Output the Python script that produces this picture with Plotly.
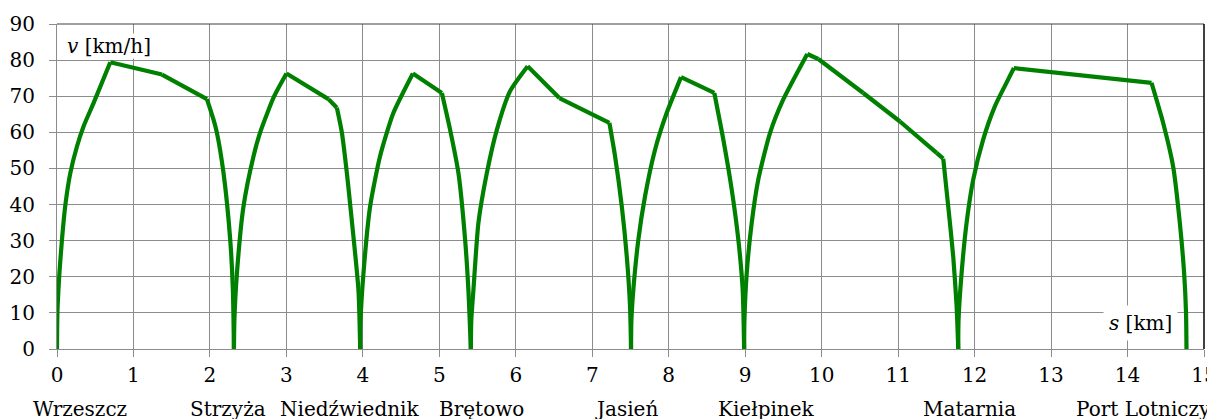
import plotly.graph_objects as go

# distance along route [km] and speed [km/h]
s_km = [
    0.000, 0.002, 0.008, 0.030, 0.065, 0.110, 0.174, 0.260, 0.348, 0.478, 0.697,
    1.373, 1.961, 2.047, 2.090, 2.178, 2.265, 2.300, 2.314,
    2.320, 2.353, 2.439, 2.570, 2.657, 2.840, 3.001,
    3.550, 3.660, 3.725, 3.791, 3.834, 3.942, 3.965,
    3.970, 4.008, 4.095, 4.225, 4.400, 4.654,
    5.033, 5.141, 5.250, 5.337, 5.380, 5.412,
    5.418, 5.446, 5.511, 5.621, 5.752, 5.925, 6.155,
    6.570, 7.224, 7.298, 7.386, 7.451, 7.494, 7.507,
    7.512, 7.537, 7.603, 7.690, 7.821, 7.974, 8.161,
    8.596, 8.714, 8.824, 8.910, 8.967, 8.986,
    8.990, 9.020, 9.085, 9.171, 9.324, 9.498, 9.812,
    9.956, 10.544, 11.024, 11.503, 11.590, 11.655, 11.720, 11.765, 11.786,
    11.790, 11.830, 11.895, 11.982, 12.112, 12.265, 12.390, 12.514,
    14.314, 14.466, 14.596, 14.684, 14.740, 14.765, 14.771,
]
v_kmh = [
    0.0, 6.0, 11.8, 20.5, 30.3, 40.0, 48.7, 56.0, 61.7, 68.1, 79.4,
    76.0, 69.2, 63.5, 60.0, 48.7, 30.3, 16.4, 0.0,
    8.0, 21.0, 39.5, 53.4, 60.0, 70.0, 76.3,
    69.2, 66.8, 60.0, 48.7, 40.0, 16.4, 0.0,
    8.0, 21.0, 39.5, 53.4, 65.4, 76.3,
    70.9, 60.7, 48.7, 30.3, 16.4, 0.0,
    8.0, 16.4, 34.9, 48.7, 60.7, 71.4, 78.3,
    69.5, 62.6, 53.4, 39.5, 25.7, 11.8, 0.0,
    8.0, 16.4, 30.3, 42.3, 55.2, 65.4, 75.3,
    70.9, 58.0, 44.1, 30.3, 16.4, 0.0,
    8.0, 21.0, 34.9, 46.9, 59.8, 69.1, 81.7,
    80.3, 70.9, 63.0, 54.3, 52.7, 39.5, 25.7, 11.8, 0.0,
    8.0, 21.0, 34.9, 46.9, 58.0, 67.2, 72.6, 77.8,
    73.7, 62.6, 50.6, 34.9, 21.0, 10.0, 0.0,
]
# sharp corners (stops, peaks, kinks); runs between them are drawn smooth
corner_s = [0.000, 0.697, 1.373, 1.961, 2.314, 3.001, 3.550, 3.660, 3.965,
            4.654, 5.033, 5.412, 6.155, 6.570, 7.224, 7.507, 8.161, 8.596,
            8.986, 9.812, 9.956, 10.544, 11.024, 11.503, 11.590, 11.786,
            12.514, 14.314, 14.771]

stations = ["Wrzeszcz", "Strzyża", "Niedźwiednik", "Brętowo", "Jasień",
            "Kiełpinek", "Matarnia", "Port Lotniczy"]
station_label_s = [0.30, 2.24, 3.83, 5.55, 7.45, 9.28, 11.93, 14.21]

x_ticks = list(range(0, 16))
y_ticks = list(range(0, 100, 10))

FONT = "DejaVu Serif"
FS = 20
GRID = "#8c8c8c"
GREEN = "#008000"

corner_idx = [s_km.index(c) for c in corner_s]

fig = go.Figure()
for a, b in zip(corner_idx[:-1], corner_idx[1:]):
    xs = s_km[a:b + 1]
    ys = v_kmh[a:b + 1]
    fig.add_trace(go.Scatter(
        x=xs, y=ys, mode="lines",
        line=dict(color=GREEN, width=4.2,
                  shape="spline" if len(xs) > 2 else "linear", smoothing=0.6),
        hoverinfo="skip", showlegend=False,
    ))

for name, xs in zip(stations, station_label_s):
    fig.add_annotation(
        x=xs, xref="x", y=0, yref="paper", yanchor="top", xanchor="center",
        yshift=-46, text=name, showarrow=False,
        font=dict(family=FONT, size=FS, color="black"),
    )

fig.add_annotation(
    x=0, xref="paper", y=80, yref="y", xanchor="left", yanchor="bottom",
    xshift=9, yshift=1, text="<i>v</i> [km/h]", showarrow=False,
    bgcolor="white", borderpad=0,
    font=dict(family=FONT, size=FS, color="black"),
)
fig.add_annotation(
    x=0.945, xref="paper", y=0.08, yref="paper", xanchor="center", yanchor="middle",
    text="<i>s</i> [km]", showarrow=False, bgcolor="white", borderpad=5,
    font=dict(family=FONT, size=FS, color="black"),
)

# frame: top and right borders
fig.add_shape(type="line", xref="paper", yref="paper", x0=0, x1=1, y0=1, y1=1,
              line=dict(color="#404040", width=1.2), layer="above")
fig.add_shape(type="line", xref="paper", yref="paper", x0=1, x1=1, y0=0, y1=1,
              line=dict(color="#000000", width=1.5), layer="above")

fig.update_layout(
    width=1215, height=419,
    margin=dict(l=49, r=19, t=16, b=78),
    paper_bgcolor="white", plot_bgcolor="white",
    font=dict(family=FONT, size=FS, color="black"),
    showlegend=False,
)
fig.update_xaxes(
    range=[0, 15], tickvals=x_ticks, ticktext=[str(t) for t in x_ticks],
    showgrid=True, gridcolor=GRID, gridwidth=1, zeroline=False,
    showline=True, linecolor=GRID, linewidth=1, automargin=False,
    ticks="outside", ticklen=7, tickcolor=GRID, tickwidth=1,
    ticklabelstandoff=1,
    tickfont=dict(family=FONT, size=FS, color="black"),
)
fig.update_yaxes(
    range=[0, 90], tickvals=y_ticks, ticktext=[str(t) for t in y_ticks],
    showgrid=True, gridcolor=GRID, gridwidth=1, zeroline=False,
    showline=True, linecolor=GRID, linewidth=1, automargin=False,
    ticks="outside", ticklen=7, tickcolor=GRID, tickwidth=1,
    ticklabelstandoff=10,
    tickfont=dict(family=FONT, size=FS, color="black"),
)

fig.write_html("out.html")
